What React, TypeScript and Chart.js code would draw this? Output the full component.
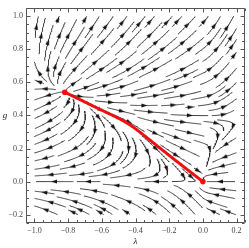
import React, { useEffect, useRef } from "react";
import { Chart, registerables } from "chart.js";
Chart.register(...registerables);

// ---- axes ----
const xTicks = [-1.0, -0.8, -0.6, -0.4, -0.2, 0.0, 0.2];
const yTicks = [-0.2, 0.0, 0.2, 0.4, 0.6, 0.8, 1.0];
const xLimits = [-1.05, 0.25];
const yLimits = [-0.25, 1.05];
const minorStep = 0.05;
const xLabel = "λ";
const yLabel = "g";

// ---- region covered by the stream lines ----
const streamRegionX = [-1.0, 0.2];
const streamRegionY = [-0.2, 1.0];

// ---- fixed points (red dots): non-Gaussian and Gaussian ----
const fixedPointLambda = [-0.82, 0.0];
const fixedPointG = [0.54, 0.0];

// ---- flow shape parameters ----
const separatrixSlopeNearGFP = -0.78; // slope of red curve where it enters (0,0)
const shearAtSource = 1.5; // sets the direction in which the red curve leaves the upper dot
const redBendLambda = -0.45; // where the red curve bends
const redBendWidth = 0.03;
const nearSideBoost = 0.55;
const gNullclineSlope = -0.17; // g-nullcline through the upper red dot
const rightTurnHeight = 0.36; // flows on the right turn back below g ~ 0.35
const rightTurnWidth = 0.06;

function field(x: number, y: number): [number, number] {
  const xS = fixedPointLambda[0];
  const gS = fixedPointG[0];
  const c = -2 / separatrixSlopeNearGFP;
  const mS = shearAtSource / c;
  const m = 1 + ((mS - 1) * x) / xS;
  let h: number;
  if (x <= 0) {
    const sig = 1 / (1 + Math.exp(-(x - redBendLambda) / redBendWidth));
    h = gS * (x / xS) * (x / xS) * (1 + nearSideBoost * sig);
  } else {
    h = rightTurnHeight * (1 - Math.exp(-x / rightTurnWidth));
  }
  const G = gS + gNullclineSlope * (x - xS);
  const u = c * m * (y - h);
  const v = -2 * y + (2 * y * y) / G;
  return [u, v];
}

function dirAt(x: number, y: number, sign: number): [number, number] | null {
  const [u, v] = field(x, y);
  const s = Math.hypot(u, v);
  if (s < 1e-7) return null;
  return [(sign * u) / s, (sign * v) / s];
}

function nearFixed(x: number, y: number, d: number) {
  for (let i = 0; i < fixedPointLambda.length; i++) {
    if (Math.hypot(x - fixedPointLambda[i], y - fixedPointG[i]) < d) return true;
  }
  return false;
}

function buildStreamlines(): number[][][] {
  const [x0, x1] = streamRegionX;
  const [y0, y1] = streamRegionY;
  const dsep = 0.042;
  const dtest = 0.021;
  const h = 0.003;
  const halfLen = 0.11;
  const minLen = 0.045;
  const cell = dsep;
  const buckets = new Map<number, number[]>();
  const key = (i: number, j: number) => (i + 1000) * 4096 + (j + 1000);
  const addPt = (x: number, y: number, id: number) => {
    const k = key(Math.floor(x / cell), Math.floor(y / cell));
    let b = buckets.get(k);
    if (!b) { b = []; buckets.set(k, b); }
    b.push(x, y, id);
  };
  const isFree = (x: number, y: number, d: number, id: number) => {
    const i = Math.floor(x / cell), j = Math.floor(y / cell);
    const r = Math.ceil(d / cell);
    const d2 = d * d;
    for (let di = -r; di <= r; di++) for (let dj = -r; dj <= r; dj++) {
      const b = buckets.get(key(i + di, j + dj));
      if (!b) continue;
      for (let p = 0; p < b.length; p += 3) {
        if (b[p + 2] === id) continue;
        const dx = b[p] - x, dy = b[p + 1] - y;
        if (dx * dx + dy * dy < d2) return false;
      }
    }
    return true;
  };
  const trace = (sx: number, sy: number, sign: number, id: number) => {
    const pts: number[][] = [];
    let x = sx, y = sy, len = 0;
    while (len < halfLen) {
      const d1 = dirAt(x, y, sign);
      if (!d1) break;
      const d2 = dirAt(x + d1[0] * h * 0.5, y + d1[1] * h * 0.5, sign);
      if (!d2) break;
      const nx = x + d2[0] * h, ny = y + d2[1] * h;
      if (nx < x0 || nx > x1 || ny < y0 || ny > y1) break;
      if (!isFree(nx, ny, dtest, id)) break;
      if (nearFixed(nx, ny, 0.012)) break;
      pts.push([nx, ny]);
      x = nx; y = ny; len += h;
    }
    return pts;
  };
  const lines: number[][][] = [];
  const levels = [0.16, 0.08, 0.04, 0.02];
  for (const s of levels) {
    for (let x = x0 + s / 2; x < x1; x += s) {
      for (let y = y0 + s / 2; y < y1; y += s) {
        if (!isFree(x, y, dsep * 0.95, -1)) continue;
        if (nearFixed(x, y, 0.02)) continue;
        const id = lines.length;
        const fw = trace(x, y, 1, id);
        const bw = trace(x, y, -1, id);
        if ((fw.length + bw.length) * h < minLen) continue;
        const line = [...bw.reverse(), [x, y], ...fw];
        for (const p of line) addPt(p[0], p[1], id);
        const thin = line.filter((_, i) => i % 2 === 0 || i === line.length - 1);
        lines.push(thin);
      }
    }
  }
  return lines;
}

function separatrix(): number[][] {
  const xS = fixedPointLambda[0], gS = fixedPointG[0];
  const xO = fixedPointLambda[1], gO = fixedPointG[1];
  const ex = 1 / separatrixSlopeNearGFP;
  const n = Math.hypot(ex, 1);
  let x = xO + (0.004 * ex) / n, y = gO + 0.004 / n;
  const h = 0.003;
  const pts: number[][] = [[xO, gO], [x, y]];
  for (let k = 0; k < 3000; k++) {
    const d1 = dirAt(x, y, -1);
    if (!d1) break;
    const d2 = dirAt(x + d1[0] * h * 0.5, y + d1[1] * h * 0.5, -1);
    if (!d2) break;
    x += d2[0] * h; y += d2[1] * h;
    if (Math.hypot(x - xS, y - gS) < 0.008) break;
    pts.push([x, y]);
  }
  pts.push([xS, gS]);
  return pts.reverse().filter((_, i, arr) => i % 3 === 0 || i === arr.length - 1);
}

function fmt(v: number) {
  const s = Math.abs(v).toFixed(1);
  return v < -1e-9 ? "\u2212" + s : s;
}

const framePlugin = {
  id: "mmaFrame",
  afterDatasetsDraw(chart: any) {
    const { ctx, chartArea, scales } = chart;
    const { left, right, top, bottom } = chartArea;
    const sx = scales.x, sy = scales.y;
    ctx.save();
    ctx.strokeStyle = "#555";
    ctx.lineWidth = 1;
    const L = Math.round(left) + 0.5, R = Math.round(right) - 0.5;
    const T = Math.round(top) + 0.5, B = Math.round(bottom) - 0.5;
    ctx.beginPath();
    ctx.rect(L, T, R - L, B - T);
    ctx.stroke();
    ctx.beginPath();
    const isMajor = (arr: number[], v: number) => arr.some((t) => Math.abs(t - v) < 1e-6);
    for (let k = Math.ceil(xLimits[0] / minorStep); k * minorStep <= xLimits[1] + 1e-9; k++) {
      const v = k * minorStep;
      const len = isMajor(xTicks, v) ? 4 : 2.5;
      const px = Math.round(sx.getPixelForValue(v)) + 0.5;
      ctx.moveTo(px, B); ctx.lineTo(px, B - len);
      ctx.moveTo(px, T); ctx.lineTo(px, T + len);
    }
    for (let k = Math.ceil(yLimits[0] / minorStep); k * minorStep <= yLimits[1] + 1e-9; k++) {
      const v = k * minorStep;
      const len = isMajor(yTicks, v) ? 4 : 2.5;
      const py = Math.round(sy.getPixelForValue(v)) + 0.5;
      ctx.moveTo(L, py); ctx.lineTo(L + len, py);
      ctx.moveTo(R, py); ctx.lineTo(R - len, py);
    }
    ctx.stroke();
    ctx.fillStyle = "#222";
    ctx.font = 'italic 9px "Liberation Serif"';
    ctx.textAlign = "center";
    ctx.textBaseline = "middle";
    ctx.fillText(yLabel, 5, (top + bottom) / 2);
    ctx.fillText(xLabel, (left + right) / 2, 242);
    ctx.restore();
  },
};

export default function App() {
  const ref = useRef<HTMLCanvasElement>(null);
  useEffect(() => {
    const canvas = ref.current!;
    const arrow = document.createElement("canvas");
    arrow.width = 6;
    arrow.height = 5;
    const actx = arrow.getContext("2d")!;
    actx.fillStyle = "#111";
    actx.beginPath();
    actx.moveTo(6, 2.5);
    actx.lineTo(0, 0.4);
    actx.lineTo(0, 4.6);
    actx.closePath();
    actx.fill();

    const lines = buildStreamlines();
    const rot = (ctx: any) => {
      const ds = ctx.dataset.data;
      const i = ctx.dataIndex;
      const a = ds[Math.max(0, i - 1)], b = ds[Math.min(ds.length - 1, i + 1)];
      const sx = ctx.chart.scales.x, sy = ctx.chart.scales.y;
      const dx = sx.getPixelForValue(b.x) - sx.getPixelForValue(a.x);
      const dy = sy.getPixelForValue(b.y) - sy.getPixelForValue(a.y);
      return (Math.atan2(dy, dx) * 180) / Math.PI;
    };
    const streamSets = lines.map((ln) => {
      const mid = Math.floor(ln.length / 2);
      return {
        data: ln.map((p) => ({ x: p[0], y: p[1] })),
        showLine: true,
        borderColor: "#2b2b2b",
        borderWidth: 0.9,
        pointRadius: ln.map((_, i) => (i === mid ? 3 : 0)),
        pointStyle: arrow as any,
        pointRotation: rot,
        order: 2,
      };
    });
    const sep = separatrix();
    const redSet = {
      data: sep.map((p) => ({ x: p[0], y: p[1] })),
      showLine: true,
      borderColor: "rgb(238,16,16)",
      borderWidth: 3,
      borderCapStyle: "round" as const,
      pointRadius: sep.map((_, i) => (i === 0 || i === sep.length - 1 ? 2.8 : 0)),
      pointBackgroundColor: "rgb(238,16,16)",
      pointBorderWidth: 0,
      pointStyle: "circle" as const,
      order: 0,
    };

    const tickFont = { family: "Liberation Serif", size: 8 };
    const chart = new Chart(canvas, {
      type: "scatter",
      data: { datasets: [redSet as any, ...streamSets] },
      options: {
        animation: false,
        responsive: false,
        events: [],
        layout: { padding: { top: 1, right: 2, left: 0, bottom: 0 } },
        plugins: { legend: { display: false }, tooltip: { enabled: false } },
        scales: {
          x: {
            type: "linear",
            min: xLimits[0],
            max: xLimits[1],
            grid: { display: false, drawTicks: false },
            border: { display: false },
            afterBuildTicks: (s: any) => { s.ticks = xTicks.map((v) => ({ value: v })); },
            afterFit: (s: any) => { s.height = 25; },
            ticks: {
              autoSkip: false,
              maxRotation: 0,
              padding: 3,
              color: "#444",
              font: tickFont,
              callback: (v: any) => fmt(Number(v)),
            },
          },
          y: {
            type: "linear",
            min: yLimits[0],
            max: yLimits[1],
            grid: { display: false, drawTicks: false },
            border: { display: false },
            afterBuildTicks: (s: any) => { s.ticks = yTicks.map((v) => ({ value: v })); },
            afterFit: (s: any) => { s.width = 26; },
            ticks: {
              autoSkip: false,
              padding: 3,
              color: "#444",
              font: tickFont,
              callback: (v: any) => fmt(Number(v)),
            },
          },
        },
      },
      plugins: [framePlugin],
    });
    return () => chart.destroy();
  }, []);
  return (
    <div style={{ position: "absolute", left: 0, top: 0, width: 249, height: 248 }}>
      <canvas ref={ref} width={249} height={248} style={{ display: "block" }} />
    </div>
  );
}
